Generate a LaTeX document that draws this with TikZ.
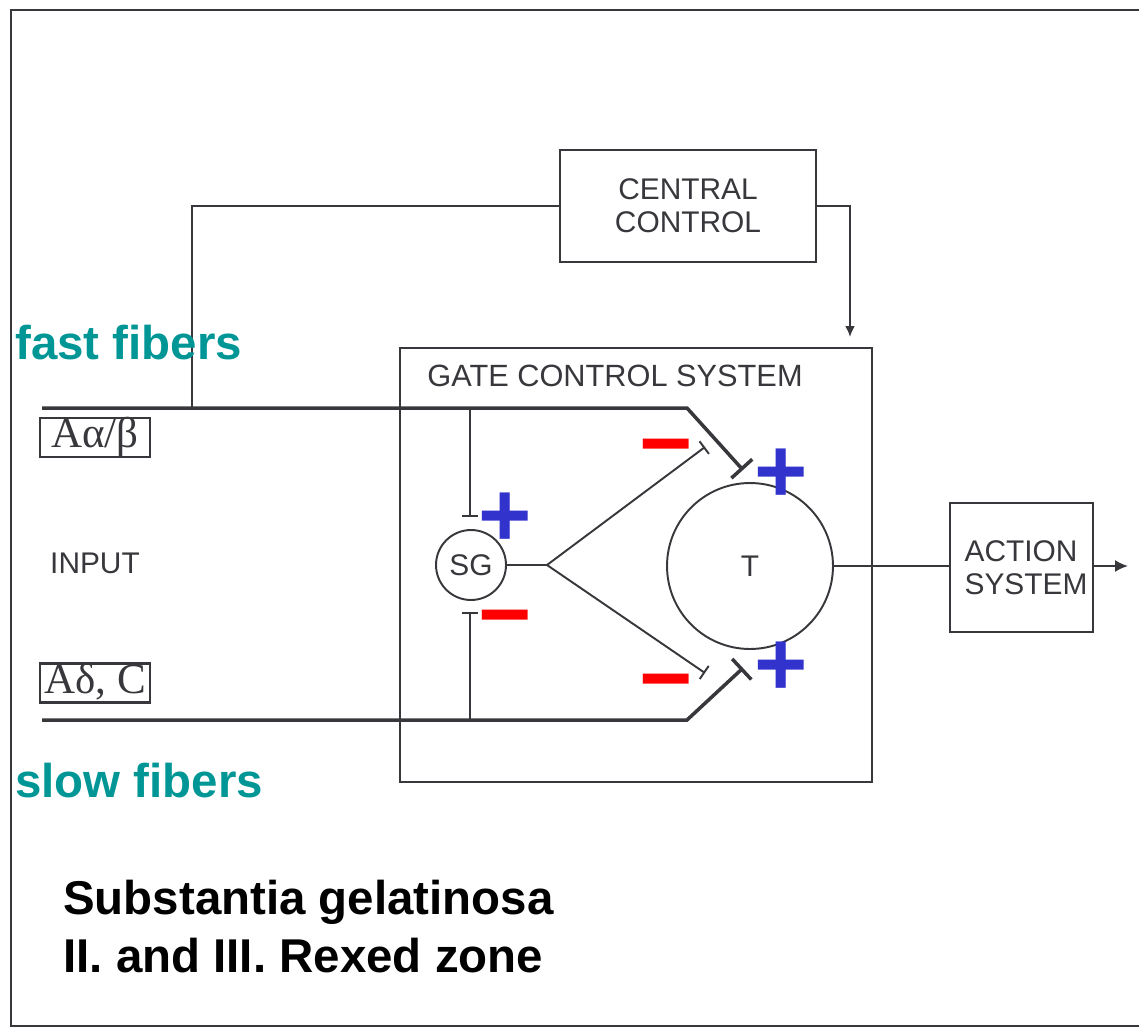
\documentclass[tikz,border=0pt]{standalone}
\usepackage{fontspec}
\setmainfont{Liberation Sans}
\newfontfamily\grfont{Liberation Serif}
\usetikzlibrary{arrows.meta}
\definecolor{ink}{RGB}{55,55,60}
\definecolor{fibertxt}{RGB}{0,150,150}
\definecolor{plusblue}{RGB}{50,50,205}

\begin{document}
\begin{tikzpicture}[
  x=0.02cm, y=-0.02cm,
  box/.style={draw=ink, line width=1.2pt, inner sep=0pt, align=center, font=\fontsize{17}{19}\selectfont, text=ink},
  inbox/.style={draw=ink, line width=1.2pt, inner sep=0pt, minimum width=2.2cm, minimum height=0.78cm, text height=0.5cm, text depth=0.1cm, font=\grfont\fontsize{24.5}{26}\selectfont, text=ink},
  cell/.style={draw=ink, circle, line width=1.1pt, inner sep=0pt, font=\fontsize{17}{19}\selectfont, text=ink},
  txt/.style={font=\fontsize{17}{19}\selectfont, text=ink, inner sep=0pt},
  fiber/.style={line width=2pt, draw=ink},
  wire/.style={line width=1.1pt, draw=ink},
  fibername/.style={font=\bfseries\fontsize{27}{30}\selectfont, text=fibertxt, inner sep=0pt, anchor=base west},
  plus/.style={font=\bfseries\fontsize{52}{52}\selectfont, text=plusblue, inner sep=0pt},
  minus/.style={font=\bfseries\fontsize{52}{52}\selectfont, text=red, inner sep=0pt}
]
\useasboundingbox (0,0) rectangle (1139,1028);
% frame
\draw[ink, line width=1.4pt] (1139,10) -- (11,10) -- (11,1026) -- (1139,1026);

% boxes
\node[box, minimum width=5.12cm, minimum height=2.24cm] (central) at (688,206) {CENTRAL\\CONTROL};
\node[box, minimum width=9.44cm, minimum height=8.68cm] (gate) at (636,565) {};
\node[txt, anchor=base west, font=\fontsize{17.5}{19}\selectfont] (gatelbl) at (427,386) {GATE CONTROL SYSTEM};
\node[box, minimum width=2.86cm, minimum height=2.58cm] (action) at (1021.5,567.5) {};
\node[txt, align=left] (actionlbl) at (1026,568) {ACTION\\SYSTEM};
\node[cell, minimum size=1.4cm] (sg) at (471,565) {SG};
\node[cell, minimum size=3.32cm] (t) at (750,566) {T};

% input side
\node[inbox] (fastbox) at (95,437.5) {Aα/β};
\node[inbox] (slowbox) at (95,683) {Aδ, C};
\node[txt] (input) at (95,563) {INPUT};

% fibers
\coordinate (fastin) at (42,408);
\coordinate (fastbend) at (687,408);
\coordinate (fastend) at (743,470);
\coordinate (slowin) at (42,720);
\coordinate (slowbend) at (687,720);
\coordinate (slowend) at (743,668);
\coordinate (tap) at (192,408);
\coordinate (fasttap) at (470,408);
\coordinate (slowtap) at (470,720);
\coordinate (sgtop) at (470,517);
\coordinate (sgbot) at (470,612);
\coordinate (fork) at (547,565);
\coordinate (forkup) at (705,447);
\coordinate (forkdown) at (705,673);
\coordinate (out) at (1128,566);
\coordinate (ccdown) at (850,337);

\draw[fiber, -{Bar[width=16pt,line width=2pt]}] (fastin) -- (fastbend) -- (fastend);
\draw[fiber, -{Bar[width=16pt,line width=2pt]}] (slowin) -- (slowbend) -- (slowend);
\draw[wire, -{Bar[width=9pt]}] (fasttap) -- (sgtop);
\draw[wire, -{Bar[width=9pt]}] (slowtap) -- (sgbot);
\draw[wire] (sg.east) -- (fork);
\draw[wire, -{Bar[width=9pt]}] (fork) -- (forkup);
\draw[wire, -{Bar[width=9pt]}] (fork) -- (forkdown);
\draw[wire] (central.west) -| (tap);
\draw[wire, -{Latex[length=2.2mm,width=2mm]}] (central.east) -| (ccdown);
\draw[wire] (t.east) -- (t.east -| action.west);
\draw[wire, -{Latex[length=2.6mm,width=2.4mm]}] (action.east |- t.east) -- (out);

% signs
\node[plus] (p1) at (781,476) {+};
\node[plus] (p2) at (505,520) {+};
\node[plus] (p3) at (781,669) {+};
\node[minus] (m1) at (666,457) {−};
\node[minus] (m2) at (505,628) {−};
\node[minus] (m3) at (666,692) {−};

% labels
\node[fibername] (fast) at (15,359) {fast fibers};
\node[fibername] (slow) at (15,797) {slow fibers};
\node[font=\bfseries\fontsize{27}{33}\selectfont, align=left, anchor=north west, inner sep=0pt] (sgzone) at (63,880) {Substantia gelatinosa\\II. and III. Rexed zone};
\end{tikzpicture}
\end{document}
